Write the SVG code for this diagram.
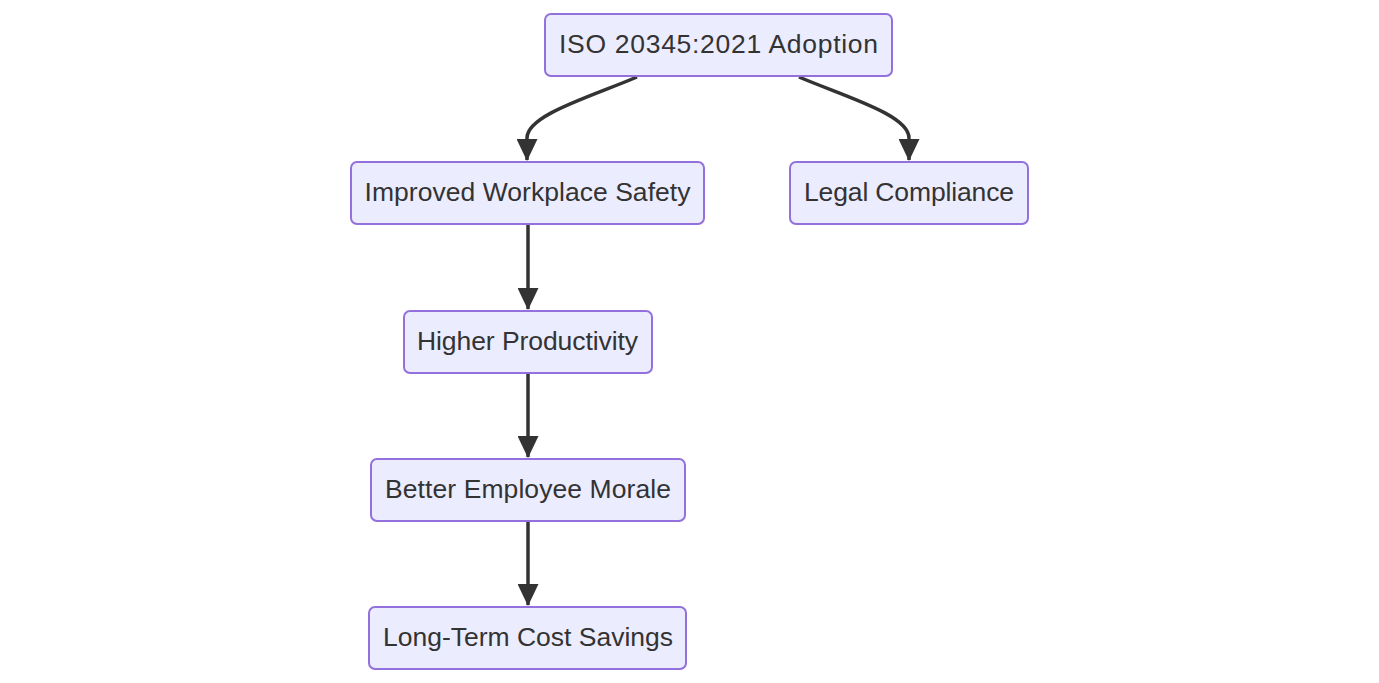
<svg xmlns="http://www.w3.org/2000/svg" width="1379" height="683" viewBox="0 0 1379 683">
<defs>
<style>
.node rect{fill:#ECECFF;stroke:#9370DB;stroke-width:2}
.node text{font-family:"Liberation Sans",Arial,sans-serif;font-size:26.5px;fill:#333;text-anchor:middle}
.edge{fill:none;stroke:#333;stroke-width:3.5}
</style>
<marker id="arrow" viewBox="0 0 22 21" refX="21" refY="10.5" markerWidth="22" markerHeight="21" markerUnits="userSpaceOnUse" orient="auto">
<path d="M0,0 L22,10.5 L0,21 z" fill="#333"/>
</marker>
</defs>
<rect width="1379" height="683" fill="#fff"/>
<g id="edges">
<path class="edge" d="M637,77 C590,97 527,115 527,138 L527,160" marker-end="url(#arrow)"/>
<path class="edge" d="M799,77 C846,97 909,115 909,138 L909,160" marker-end="url(#arrow)"/>
<path class="edge" d="M528,225 L528,309" marker-end="url(#arrow)"/>
<path class="edge" d="M528,374 L528,457" marker-end="url(#arrow)"/>
<path class="edge" d="M528,522 L528,605" marker-end="url(#arrow)"/>
</g>
<g id="n_iso" class="node"><rect x="545" y="14" width="347" height="62" rx="6"/><text x="718.5" y="52.7" textLength="319" lengthAdjust="spacing">ISO 20345:2021 Adoption</text></g>
<g id="n_safety" class="node"><rect x="351" y="162" width="353" height="62" rx="6"/><text x="527.5" y="200.7" textLength="326" lengthAdjust="spacing">Improved Workplace Safety</text></g>
<g id="n_legal" class="node"><rect x="790" y="162" width="238" height="62" rx="6"/><text x="909" y="200.7" textLength="210" lengthAdjust="spacing">Legal Compliance</text></g>
<g id="n_prod" class="node"><rect x="404" y="311" width="248" height="62" rx="6"/><text x="527.5" y="349.7" textLength="221" lengthAdjust="spacing">Higher Productivity</text></g>
<g id="n_morale" class="node"><rect x="371" y="459" width="314" height="62" rx="6"/><text x="528" y="497.7" textLength="286" lengthAdjust="spacing">Better Employee Morale</text></g>
<g id="n_cost" class="node"><rect x="369" y="607" width="317" height="62" rx="6"/><text x="528" y="645.7" textLength="290" lengthAdjust="spacing">Long-Term Cost Savings</text></g>
</svg>
